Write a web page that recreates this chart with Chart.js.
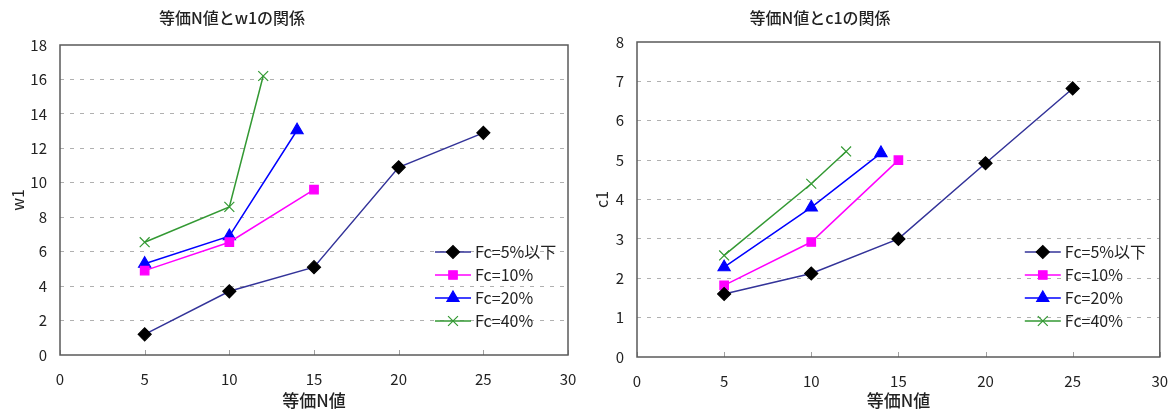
<!DOCTYPE html>
<html>
<head>
<meta charset="utf-8">
<script src="https://cdn.jsdelivr.net/npm/chart.js@4.4.1/dist/chart.umd.min.js"></script>
<style>
  body { margin: 0; background: #fff; overflow: hidden; }
  .box { position: absolute; top: 0; width: 584px; height: 412px; }
</style>
</head>
<body>
<div class="box" style="left:0"><canvas id="w1Chart"></canvas></div>
<div class="box" style="left:584px"><canvas id="c1Chart"></canvas></div>
<script>
// series names
var seriesLabels = ['Fc=5%以下', 'Fc=10%', 'Fc=20%', 'Fc=40%'];

// equivalent N values (x) per series
var nFc5  = [5, 10, 15, 20, 25];
var nFc10 = [5, 10, 15];
var nFc20 = [5, 10, 14];
var nFc40 = [5, 10, 12];

// w1 values
var w1Fc5  = [1.2, 3.7, 5.1, 10.9, 12.9];
var w1Fc10 = [4.9, 6.55, 9.6];
var w1Fc20 = [5.3, 6.9, 13.05];
var w1Fc40 = [6.55, 8.6, 16.2];

// c1 values
var c1Fc5  = [1.6, 2.12, 3.0, 4.92, 6.82];
var c1Fc10 = [1.82, 2.92, 5.0];
var c1Fc20 = [2.28, 3.8, 5.18];
var c1Fc40 = [2.58, 4.4, 5.22];

var xTicks = [0, 5, 10, 15, 20, 25, 30];

var FONT = '"Noto Sans CJK JP", "Noto Sans", sans-serif';

function pts(xs, ys) {
    return xs.map(function (x, i) { return { x: x, y: ys[i] }; });
}

// line / marker styles per series
var styles = [
    { line: '#333399', fill: '#000000', edge: '#000000', shape: 'rectRot', r: 6.5 },
    { line: '#ff00ff', fill: '#ff00ff', edge: '#ff00ff', shape: 'rect', r: 6 },
    { line: '#0000ff', fill: '#0000ff', edge: '#0000ff', shape: 'triangle', r: 7 },
    { line: '#339933', fill: 'rgba(0,0,0,0)', edge: '#339933', shape: 'crossRot', r: 7 }
];

function makeDatasets(groups) {
    return groups.map(function (g, i) {
        var s = styles[i];
        return {
            label: seriesLabels[i],
            data: pts(g[0], g[1]),
            borderColor: s.line,
            borderWidth: 1.5,
            pointStyle: s.shape,
            pointRadius: s.r,
            pointHoverRadius: s.r,
            pointBackgroundColor: s.fill,
            pointBorderColor: s.edge,
            pointBorderWidth: 1.2,
            fill: false,
            tension: 0
        };
    });
}

// title drawn at a fixed spot, like the original
var titlePlugin = {
    id: 'fixedTitle',
    afterDraw: function (chart, args, opts) {
        var c = chart.ctx;
        c.save();
        c.font = '500 16px ' + FONT;
        c.fillStyle = '#222';
        c.textAlign = 'center';
        c.textBaseline = 'middle';
        c.fillText(opts.text, opts.x, opts.y);
        c.restore();
    }
};

// plot frame + small inner tick marks on the x axis
var framePlugin = {
    id: 'frame',
    beforeDatasetsDraw: function (chart) {
        var a = chart.chartArea, c = chart.ctx, xs = chart.scales.x;
        c.save();
        c.strokeStyle = '#a0a0a0';
        c.lineWidth = 1;
        xTicks.forEach(function (v) {
            var px = Math.round(xs.getPixelForValue(v)) + 0.5;
            c.beginPath();
            c.moveTo(px, a.bottom);
            c.lineTo(px, a.bottom - 5);
            c.stroke();
        });
        c.restore();
    },
    afterDatasetsDraw: function (chart) {
        var a = chart.chartArea, c = chart.ctx;
        c.save();
        c.strokeStyle = '#5a5a5a';
        c.lineWidth = 1.5;
        c.strokeRect(a.left, a.top, a.right - a.left, a.bottom - a.top);
        c.restore();
    }
};

// legend inside plot area, bottom right
var innerLegend = {
    id: 'innerLegend',
    afterDraw: function (chart, args, opts) {
        var a = chart.chartArea, c = chart.ctx;
        var x0 = a.right - opts.dx, y0 = a.bottom - opts.dy;
        c.save();
        chart.data.datasets.forEach(function (ds, i) {
            var y = y0 + i * 23;
            c.strokeStyle = ds.borderColor;
            c.lineWidth = 1.5;
            c.beginPath();
            c.moveTo(x0, y);
            c.lineTo(x0 + 36, y);
            c.stroke();
            c.fillStyle = ds.pointBackgroundColor;
            c.strokeStyle = ds.pointBorderColor;
            c.lineWidth = 1.2;
            Chart.helpers.drawPoint(c, { pointStyle: ds.pointStyle, radius: ds.pointRadius, borderWidth: 1.2, rotation: 0 }, x0 + 18, y);
            c.fillStyle = '#222';
            c.font = '16px ' + FONT;
            c.textAlign = 'left';
            c.textBaseline = 'middle';
            c.fillText(ds.label, x0 + 40, y);
        });
        c.restore();
    }
};

function makeChart(id, groups, yTitle, yMax, yStep, title, pad, yw, xh, legendPos) {
    return new Chart(id, {
        type: 'line',
        data: { datasets: makeDatasets(groups) },
        plugins: [titlePlugin, framePlugin, innerLegend],
        options: {
            responsive: true,
            maintainAspectRatio: false,
            animation: false,
            layout: { padding: pad },
            plugins: {
                legend: { display: false },
                tooltip: { enabled: false },
                fixedTitle: title,
                innerLegend: legendPos
            },
            scales: {
                x: {
                    type: 'linear',
                    min: 0, max: 30,
                    afterBuildTicks: function (s) { s.ticks = xTicks.map(function (v) { return { value: v }; }); },
                    afterFit: function (s) { s.height = xh; s.paddingLeft = 0; s.paddingRight = 0; },
                    grid: { display: false, drawTicks: false },
                    border: { display: false },
                    ticks: { padding: 15, color: '#222', font: { family: FONT, size: 15 } },
                    title: { display: true, text: '等価N値', color: '#222', padding: { top: 0, bottom: 1 }, font: { family: FONT, size: 17, weight: '500' } }
                },
                y: {
                    min: 0, max: yMax,
                    afterFit: function (s) { s.width = yw; },
                    grid: {
                        drawTicks: false,
                        color: function (ctx) {
                            var v = ctx.tick.value;
                            return (v === 0 || v === yMax) ? 'rgba(0,0,0,0)' : '#b0b0b0';
                        },
                        lineWidth: 1
                    },
                    border: { display: false, dash: [4, 6] },
                    ticks: { stepSize: yStep, padding: 13, color: '#222', font: { family: FONT, size: 15 } },
                    title: { display: true, text: yTitle, color: '#222', padding: { top: 8, bottom: 0 }, font: { family: FONT, size: 16 } }
                }
            }
        }
    });
}

makeChart('w1Chart',
    [[nFc5, w1Fc5], [nFc10, w1Fc10], [nFc20, w1Fc20], [nFc40, w1Fc40]],
    'w1', 18, 2,
    { text: '等価N値とw1の関係', x: 232, y: 18 },
    { top: 45, right: 16, bottom: 0, left: 0 }, 60, 57,
    { dx: 133, dy: 103 });

makeChart('c1Chart',
    [[nFc5, c1Fc5], [nFc10, c1Fc10], [nFc20, c1Fc20], [nFc40, c1Fc40]],
    'c1', 8, 1,
    { text: '等価N値とc1の関係', x: 236, y: 18 },
    { top: 42, right: 8, bottom: 0, left: 0 }, 53, 55,
    { dx: 135, dy: 105 });
</script>
</body>
</html>
